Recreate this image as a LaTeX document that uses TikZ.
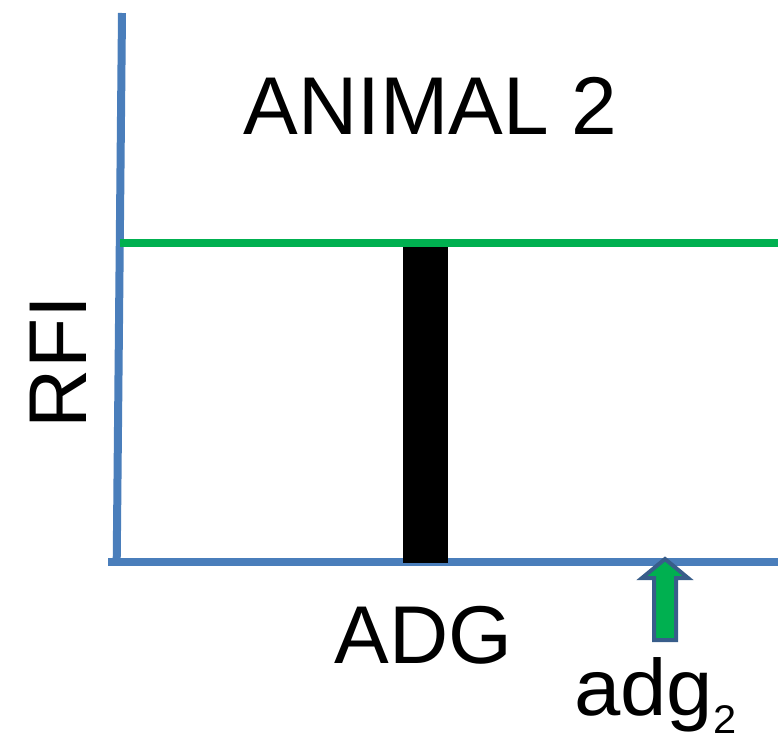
\documentclass[tikz,border=0pt]{standalone}
\usepackage{fontspec}
\setmainfont{Liberation Sans}
\definecolor{axisblue}{HTML}{4A7EBB}
\definecolor{linegreen}{HTML}{00B050}
\definecolor{outlineblue}{HTML}{385D8A}
\begin{document}
\begin{tikzpicture}[x=1pt,y=-1pt,
  axis/.style={draw=axisblue,line width=8pt},
  level/.style={draw=linegreen,line width=7.5pt},
  bigtext/.style={inner sep=0pt,font=\fontsize{82}{98}\selectfont},
  marker/.style={draw=outlineblue,fill=linegreen,line width=4pt,line join=miter}]
  \useasboundingbox (0,0) rectangle (778,742);
  % axes
  \coordinate (ytop) at (122,13);
  \coordinate (yfoot) at (116.7,561.5);
  \coordinate (xstart) at (108,561.5);
  \coordinate (xend) at (778,561.5);
  \draw[axis] (ytop) -- (yfoot);
  \draw[axis] (xstart) -- (xend);
  % black bar
  \fill[black] (403,246.5) rectangle (448,562.5);
  % green level line
  \coordinate (gstart) at (120,243);
  \coordinate (gend) at (778,243);
  \draw[level] (gstart) -- (gend);
  % upward block arrow
  \draw[marker] (654,640) -- (654,578) -- (642,578) -- (665,559) -- (688,578)
    -- (676,578) -- (676,640) -- cycle;
  % labels
  \node[bigtext,anchor=base] (title) at (430.5,134) {ANIMAL 2};
  \node[bigtext,anchor=base,rotate=90] (rfi) at (86,362) {RFI};
  \node[bigtext,anchor=base] (adg) at (423.5,663) {ADG};
  \node[inner sep=0pt,anchor=base west,font=\fontsize{80}{96}\selectfont,xscale=1.04] (adgtwo) at (574,715)
    {adg\raisebox{-18pt}{\fontsize{40}{48}\selectfont 2}};
\end{tikzpicture}
\end{document}
